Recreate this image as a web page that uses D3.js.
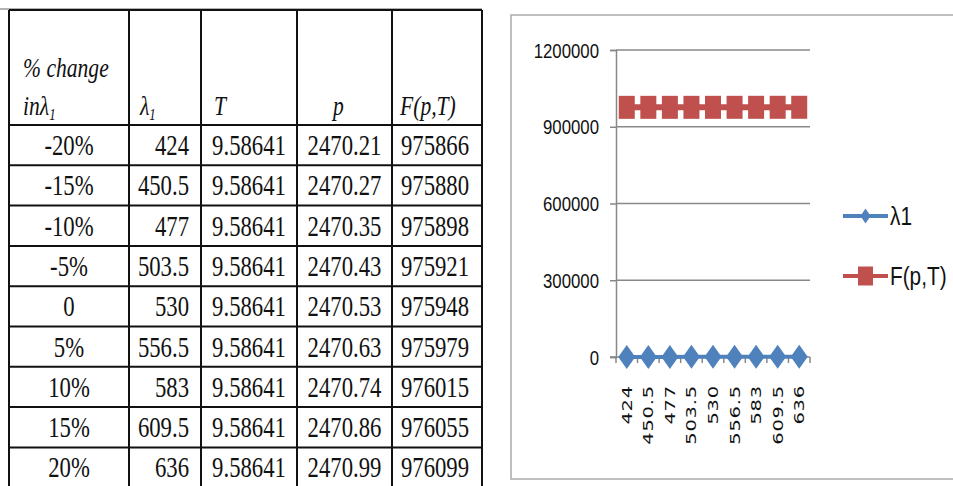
<!DOCTYPE html>
<html>
<head>
<meta charset="utf-8">
<script src="https://cdn.jsdelivr.net/npm/d3@7"></script>
<style>
  html, body { margin: 0; padding: 0; background: #fff; }
  svg { display: block; }
</style>
</head>
<body>
<svg id="fig" width="953" height="486"></svg>
<script>
// Sensitivity of the model to a change in λ1
const pctChange = ["-20%", "-15%", "-10%", "-5%", "0", "5%", "10%", "15%", "20%"];
const lambda1   = [424, 450.5, 477, 503.5, 530, 556.5, 583, 609.5, 636];
const cycleT    = [9.58641, 9.58641, 9.58641, 9.58641, 9.58641, 9.58641, 9.58641, 9.58641, 9.58641];
const priceP    = [2470.21, 2470.27, 2470.35, 2470.43, 2470.53, 2470.63, 2470.74, 2470.86, 2470.99];
const profitF   = [975866, 975880, 975898, 975921, 975948, 975979, 976015, 976055, 976099];
const yTicks    = [0, 300000, 600000, 900000, 1200000];
const seriesNames = ["λ1", "F(p,T)"];

const svg = d3.select("#fig");

// ---------------- table ----------------
const colEdges = [9, 129, 201, 297, 392, 482];
const headerTop = 10, headerBottom = 125, rowH = 40.3;
const rowScale = d3.scaleBand().domain(d3.range(pctChange.length))
  .range([headerBottom, headerBottom + rowH * pctChange.length]);

const table = svg.append("g").attr("class", "table");
const serif = "'Liberation Serif', 'Times New Roman', serif";
const sx = 0.77;

// cell text
const rows = pctChange.map((c, i) => [c, String(lambda1[i]), cycleT[i].toFixed(5), priceP[i].toFixed(2), String(profitF[i])]);
const align = ["middle", "end", "middle", "middle", "middle"];
rows.forEach((r, i) => {
  const y0 = rowScale(i);
  r.forEach((txt, j) => {
    let x;
    if (align[j] === "end") x = colEdges[j + 1] - 12;
    else x = (colEdges[j] + colEdges[j + 1]) / 2;
    if (j === 4) x -= 2;
    table.append("text")
      .attr("transform", `translate(${x},${y0 + 30}) scale(${sx},1)`)
      .attr("text-anchor", align[j])
      .attr("font-family", serif)
      .attr("font-size", 29.5)
      .attr("fill", "#111")
      .text(txt);
  });
});

// header text
function hdr(x, y) {
  return table.append("text")
    .attr("transform", `translate(${x},${y}) scale(0.8,1)`)
    .attr("font-family", serif)
    .attr("font-style", "italic")
    .attr("font-size", 27)
    .attr("fill", "#111");
}
hdr(23, 77).text("% change");
const h1 = hdr(23, 115);
h1.append("tspan").text("inλ");
h1.append("tspan").attr("font-size", 16).attr("dy", 5).text("1");
const h2 = hdr(140, 115);
h2.append("tspan").text("λ");
h2.append("tspan").attr("font-size", 16).attr("dy", 5).text("1");
hdr(214, 115).text("T");
hdr(333, 115).text("p");
hdr(400, 115).text("F(p,T)");

// grid lines of the table
const lastY = headerBottom + rowH * pctChange.length;
colEdges.forEach(x => {
  table.append("line").attr("x1", x).attr("x2", x).attr("y1", headerTop).attr("y2", lastY)
    .attr("stroke", "#111").attr("stroke-width", 2);
});
[headerBottom].concat(d3.range(1, pctChange.length).map(i => rowScale(i))).forEach(y => {
  table.append("line").attr("x1", colEdges[0]).attr("x2", colEdges[colEdges.length - 1])
    .attr("y1", y).attr("y2", y).attr("stroke", "#111").attr("stroke-width", 2);
});
table.append("line").attr("x1", 0).attr("x2", colEdges[colEdges.length - 1])
  .attr("y1", headerTop - 1).attr("y2", headerTop - 1).attr("stroke", "#999").attr("stroke-width", 1.5);
table.append("line").attr("x1", colEdges[0]).attr("x2", colEdges[colEdges.length - 1])
  .attr("y1", headerTop).attr("y2", headerTop).attr("stroke", "#111").attr("stroke-width", 2);

// ---------------- chart ----------------
const chart = svg.append("g").attr("class", "chart");
chart.append("rect").attr("x", 511).attr("y", 15).attr("width", 460).attr("height", 464)
  .attr("fill", "#fff").attr("stroke", "#aaa").attr("stroke-width", 1.5);

const plot = { left: 616, right: 810, top: 50, bottom: 357 };
const x = d3.scaleBand().domain(lambda1.map(String)).range([plot.left, plot.right]);
const y = d3.scaleLinear().domain([0, 1200000]).range([plot.bottom, plot.top]);
const sans = "'Liberation Sans', Arial, sans-serif";

// horizontal gridlines
chart.append("g").selectAll("line").data(yTicks.filter(d => d > 0)).join("line")
  .attr("x1", plot.left).attr("x2", plot.right)
  .attr("y1", d => y(d)).attr("y2", d => y(d))
  .attr("stroke", "#888").attr("stroke-width", 1.5);

// y axis
const yAxis = chart.append("g").attr("transform", `translate(${plot.left},0)`)
  .call(d3.axisLeft(y).tickValues(yTicks).tickSize(6).tickFormat(d3.format("d")));
yAxis.select(".domain").attr("stroke", "#888").attr("stroke-width", 1.5);
yAxis.selectAll(".tick line").attr("stroke", "#888").attr("stroke-width", 1.5);
yAxis.selectAll(".tick text")
  .attr("x", null).attr("dy", null)
  .attr("transform", "translate(-17,7) scale(0.84,1)")
  .attr("text-anchor", "end")
  .attr("font-family", sans).attr("font-size", 20).attr("fill", "#111");

// x axis
const xAxis = chart.append("g").attr("transform", `translate(0,${plot.bottom})`)
  .call(d3.axisBottom(x).tickSize(0).tickSizeOuter(0));
xAxis.select(".domain").attr("stroke", "#888").attr("stroke-width", 1.5)
  .attr("d", `M${plot.left - 6},0H${plot.right}`);
xAxis.selectAll(".tick text")
  .attr("y", null).attr("dy", null)
  .attr("transform", "translate(5,28) rotate(-90) scale(1,0.74)")
  .attr("text-anchor", "end")
  .attr("font-family", "'DejaVu Sans', Verdana, sans-serif")
  .attr("font-size", 19.5).attr("letter-spacing", 0.8).attr("fill", "#111");
// category boundary ticks
chart.append("g").selectAll("line").data(d3.range(lambda1.length + 1)).join("line")
  .attr("x1", i => plot.left + i * x.step()).attr("x2", i => plot.left + i * x.step())
  .attr("y1", plot.bottom).attr("y2", plot.bottom + 6)
  .attr("stroke", "#888").attr("stroke-width", 1.5);

const cx = d => x(String(d)) + x.bandwidth() / 2;
const blue = "#4f81bd", red = "#c0504d";
const diamond = (w, h) => `M0,${-h / 2}L${w / 2},0L0,${h / 2}L${-w / 2},0Z`;
const square = (w, h) => `M${-w / 2},${-h / 2}h${w}v${h}h${-w}Z`;

// F(p,T) series
chart.append("path")
  .attr("d", d3.line().x((d, i) => cx(lambda1[i])).y(d => y(d))(profitF))
  .attr("fill", "none").attr("stroke", red).attr("stroke-width", 6);
chart.append("g").selectAll("path").data(profitF).join("path")
  .attr("transform", (d, i) => `translate(${cx(lambda1[i])},${y(d)})`)
  .attr("d", square(16, 23)).attr("fill", red);

// λ1 series
chart.append("path")
  .attr("d", d3.line().x(d => cx(d)).y(d => y(d))(lambda1))
  .attr("fill", "none").attr("stroke", blue).attr("stroke-width", 4);
chart.append("g").selectAll("path").data(lambda1).join("path")
  .attr("transform", d => `translate(${cx(d)},${y(d)})`)
  .attr("d", diamond(17, 24)).attr("fill", blue);

// legend
const legend = chart.append("g");
const legendItems = [
  { name: seriesNames[0], color: blue, shape: diamond(10, 15), y: 216, sw: 4 },
  { name: seriesNames[1], color: red, shape: square(15, 19), y: 276, sw: 4 }
];
legendItems.forEach(it => {
  legend.append("line").attr("x1", 843).attr("x2", 888).attr("y1", it.y).attr("y2", it.y)
    .attr("stroke", it.color).attr("stroke-width", it.sw);
  legend.append("path").attr("transform", `translate(865.5,${it.y})`).attr("d", it.shape).attr("fill", it.color);
  legend.append("text")
    .attr("transform", `translate(890,${it.y + 9}) scale(0.8,1)`)
    .attr("font-family", sans).attr("font-size", 26).attr("fill", "#111")
    .text(it.name);
});
</script>
</body>
</html>
